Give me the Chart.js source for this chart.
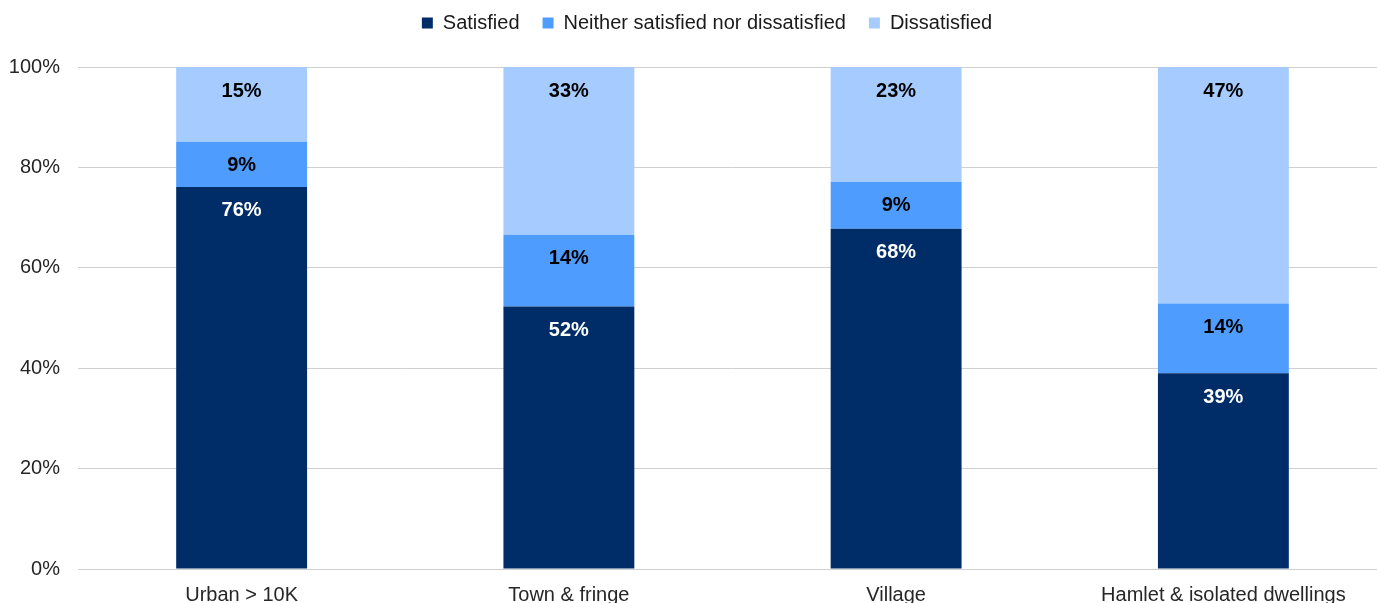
<!DOCTYPE html>
<html>
<head>
<meta charset="utf-8">
<script src="https://cdn.jsdelivr.net/npm/chart.js@4"></script>
<style>
  html, body { margin: 0; padding: 0; background: #fff; overflow: hidden; }
  #wrap { width: 1414px; height: 621px; position: relative; }
</style>
</head>
<body>
<div id="wrap"><canvas id="grafico"></canvas></div>
<script>
// categorias e valores (%)
const categorias = ['Urban > 10K', 'Town & fringe', 'Village', 'Hamlet & isolated dwellings'];
const satisfeito = [76.1, 52.3, 67.8, 39.0];
const neutro = [9.0, 14.3, 9.3, 13.9];
const insatisfeito = [14.9, 33.4, 22.9, 47.1];
const ticks_y = [0, 20, 40, 60, 80, 100];

const fonte = "'Liberation Sans', Arial, sans-serif";

// escreve o valor de cada segmento perto do topo da barra
const rotulos = {
  id: 'rotulos',
  afterInit(chart) {
    // mais espaço entre a legenda e a área do gráfico
    const leg = chart.legend;
    const fit = leg.fit;
    leg.fit = function () { fit.call(this); this.height += 24; };
  },
  afterDatasetsDraw(chart) {
    const ctx = chart.ctx;
    ctx.save();
    ctx.font = 'bold 20px ' + fonte;
    ctx.textAlign = 'center';
    ctx.textBaseline = 'middle';
    chart.data.datasets.forEach((ds, i) => {
      const meta = chart.getDatasetMeta(i);
      meta.data.forEach((bar, j) => {
        ctx.fillStyle = i == 0 ? '#ffffff' : '#000000';
        ctx.fillText(Math.round(ds.data[j]) + '%', bar.x, bar.y + 24);
      });
    });
    ctx.restore();
  }
};

function renderiza_grafico() {
  const ctx = document.getElementById('grafico').getContext('2d');
  new Chart(ctx, {
    type: 'bar',
    data: {
      labels: categorias,
      datasets: [
        { label: 'Satisfied', data: satisfeito, backgroundColor: '#002D68' },
        { label: 'Neither satisfied nor dissatisfied', data: neutro, backgroundColor: '#4F9CFF' },
        { label: 'Dissatisfied', data: insatisfeito, backgroundColor: '#A6CCFF' }
      ]
    },
    options: {
      responsive: true,
      maintainAspectRatio: false,
      animation: false,
      datasets: { bar: { barPercentage: 0.4, categoryPercentage: 1 } },
      layout: { padding: { top: -10, left: 0, right: 0, bottom: 0 } },
      plugins: {
        tooltip: { enabled: false },
        legend: {
          position: 'top',
          labels: {
            boxWidth: 11, boxHeight: 11, padding: 23,
            color: '#1a1a1a',
            font: { family: fonte, size: 20 }
          }
        }
      },
      scales: {
        x: {
          stacked: true,
          grid: { display: false, drawTicks: false },
          border: { display: true, color: '#d0d0d0', width: 1 },
          ticks: { color: '#262626', padding: 14, font: { family: fonte, size: 20 }, maxRotation: 0, autoSkip: false }
        },
        y: {
          stacked: true,
          min: 0, max: 100,
          afterBuildTicks(s) { s.ticks = ticks_y.map(v => ({ value: v })); },
          afterFit(s) { s.width = 78; },
          grid: { color: '#d0d0d0', drawTicks: false },
          border: { display: false },
          ticks: { color: '#262626', padding: 18, font: { family: fonte, size: 20 }, callback: v => v + '%' }
        },
        y2: {
          position: 'right',
          afterFit(s) { s.width = 27; },
          grid: { display: false, drawTicks: false },
          border: { display: false },
          ticks: { display: false }
        }
      }
    },
    plugins: [rotulos]
  });
}
renderiza_grafico();
</script>
</body>
</html>
